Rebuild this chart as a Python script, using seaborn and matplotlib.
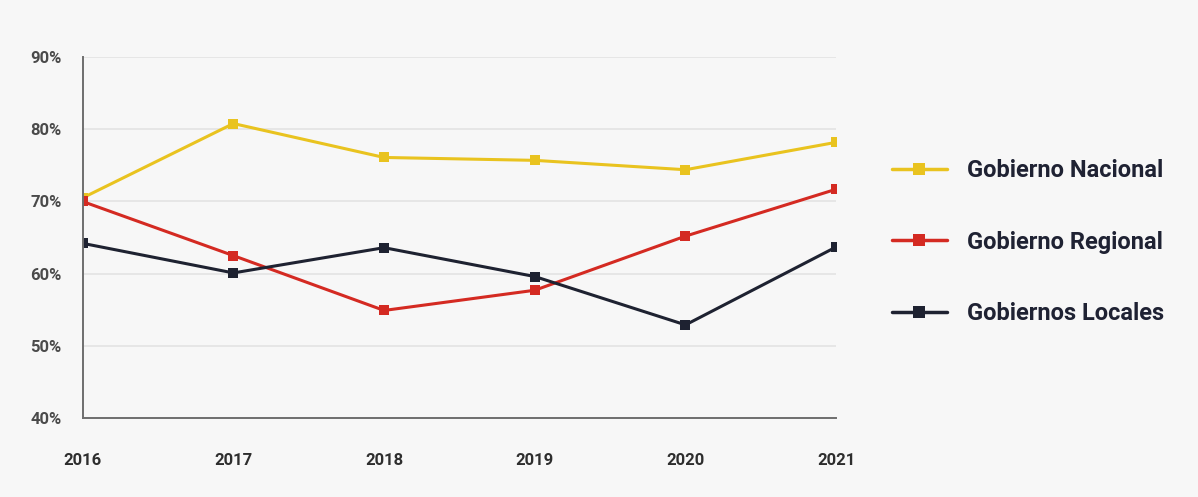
import matplotlib
matplotlib.use("Agg")
import matplotlib.pyplot as plt
import seaborn as sns
import pandas as pd
from matplotlib.lines import Line2D

years = [2016, 2017, 2018, 2019, 2020, 2021]
nacional = [70.5, 80.8, 76.1, 75.7, 74.4, 78.2]
regional = [70.0, 62.5, 54.9, 57.7, 65.2, 71.7]
locales = [64.2, 60.1, 63.6, 59.6, 52.9, 63.7]
series_names = ["Gobierno Nacional", "Gobierno Regional", "Gobiernos Locales"]
y_ticks = [40, 50, 60, 70, 80, 90]
y_labels = ["40%", "50%", "60%", "70%", "80%", "90%"]

colors = ["#E9C31F", "#D42A22", "#1E2231"]

df = pd.DataFrame({
    "year": years * 3,
    "value": nacional + regional + locales,
    "serie": [series_names[0]] * 6 + [series_names[1]] * 6 + [series_names[2]] * 6,
})

sns.set_theme(style="white")
plt.rcParams['font.family'] = ['Roboto', 'DejaVu Sans']

bg = "#F7F7F7"
fig = plt.figure(figsize=(11.98, 4.97), dpi=100, facecolor=bg)
ax = fig.add_axes([0.069, 0.159, 0.629, 0.726])
ax.set_facecolor(bg)

sns.lineplot(data=df, x="year", y="value", hue="serie", palette=colors,
             marker="s", markersize=7, markeredgewidth=0, linewidth=2.2,
             ax=ax, legend=False)

ax.set_xlim(2016, 2021)
ax.set_ylim(40, 90)
ax.set_yticks(y_ticks)
ax.set_yticklabels(y_labels)
ax.set_xticks(years)
ax.set_xticklabels([str(y) for y in years])
ax.set_xlabel("")
ax.set_ylabel("")

for yv in y_ticks[1:]:
    ax.axhline(yv, color="#E3E3E3", linewidth=1.2, zorder=0)

for s in ["top", "right"]:
    ax.spines[s].set_visible(False)
for s in ["left", "bottom"]:
    ax.spines[s].set_color("#6E6E6E")
    ax.spines[s].set_linewidth(1.4)

ax.tick_params(axis="y", length=6, width=1.2, color="#6E6E6E", pad=12,
               labelsize=12, labelcolor="#4A4A4A", direction="inout")
ax.tick_params(axis="x", length=10, width=1.2, color="#6E6E6E", pad=20,
               labelsize=12, labelcolor="#2E2E2E", direction="inout")
for lbl in ax.get_yticklabels() + ax.get_xticklabels():
    lbl.set_fontweight("bold")

handles = [Line2D([0], [0], color=c, linewidth=2.5, marker="s", markersize=8,
                  markeredgewidth=0) for c in colors]
leg = fig.legend(handles, series_names, loc="center left",
                 bbox_to_anchor=(0.727, 0.513), frameon=False,
                 prop={"size": 17, "weight": "bold"}, labelcolor="#1F2233",
                 handlelength=2.3, handletextpad=0.85, labelspacing=2.05)

fig.savefig("out.png", dpi=100, facecolor=bg)
